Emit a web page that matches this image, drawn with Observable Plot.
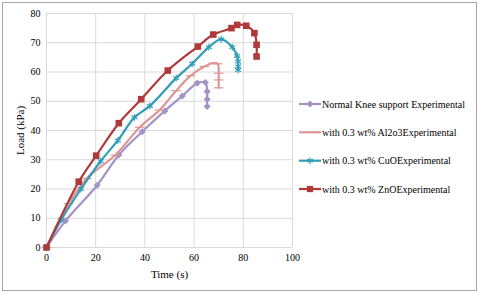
<!DOCTYPE html>
<html><head><meta charset="utf-8">
<script src="https://cdn.jsdelivr.net/npm/d3@7"></script>
<script src="https://cdn.jsdelivr.net/npm/@observablehq/plot@0.6"></script>
<style>
body{margin:0;background:#fff;}
#wrap{position:relative;width:480px;height:294px;overflow:hidden;}
#frame{position:absolute;left:2px;top:2px;width:475px;height:289px;border:1px solid #a6a6a6;box-sizing:border-box;}
#legend{position:absolute;left:0;top:0;}
</style></head>
<body><div id="wrap"><div id="chart"></div><div id="frame"></div><svg id="legend" width="480" height="294"></svg></div>
<script>
const seriesNames = ["Normal Knee support Experimental","with 0.3 wt% Al2o3Experimental","with 0.3 wt% CuOExperimental","with 0.3 wt% ZnOExperimental"];
const colors = ["#a493c6","#df9594","#2f9db5","#b03a3a"];
const normalT = [0,7.7,20.6,29.4,38.9,48.1,55.2,61.3,64.6,65.3,65.3,65.3];
const normalL = [0,9.1,21.3,31.6,39.6,46.7,51.8,56.2,56.4,53.3,50.7,48.2];
const al2o3T = [0,9,16.3,28,37.9,46,52.7,58.5,64.2,67.7,69.6,70,70,70];
const al2o3L = [0,15,23.6,31.6,41.1,47,53.6,58.7,61.9,63,62.8,59.6,57.3,54.6];
const cuoT = [0,6,14,22,29,35.8,42,52.7,59.2,66,71,75.5,77.5,77.9,77.9,77.9];
const cuoL = [0,9.5,20,29.5,36.6,44.5,48.4,57.9,62.8,68.5,71.2,68.5,65.5,63.6,61.9,60.7];
const znoT = [0,13.1,20.2,29.4,38.5,49.3,61.5,67.8,75.2,77.5,81.2,84.5,85.4,85.4];
const znoL = [0,22.5,31.4,42.5,50.7,60.5,68.7,72.8,75.0,76.1,75.8,73.3,69.3,65.3];
const xTicks = [0,20,40,60,80,100];
const yTicks = [0,10,20,30,40,50,60,70,80];

const dash = {draw(ctx, size){ const w = Math.sqrt(size)*0.9; ctx.moveTo(-w,0); ctx.lineTo(w,0); }};
const symbols = ["diamond2", dash, "asterisk", "square2"];
const symFill = [true,false,false,true];
const symR = [3.2,3,3.2,4.2];

const raw = [[normalT,normalL],[al2o3T,al2o3L],[cuoT,cuoL],[znoT,znoL]];
const series = raw.map(([t,l],i)=>t.map((x,j)=>({t:x,load:l[j],s:seriesNames[i],i})));

const font = "'Liberation Serif', 'Times New Roman', serif";
const marks = [
  Plot.gridX(xTicks,{stroke:"#d9d9d9",strokeOpacity:1}),
  Plot.gridY(yTicks,{stroke:"#d9d9d9",strokeOpacity:1}),
  Plot.ruleY([0],{stroke:"#d9d9d9"})
];
series.forEach((d,i)=>{
  marks.push(Plot.line(d,{x:"t",y:"load",stroke:colors[i],strokeWidth:2.2,curve:"catmull-rom"}));
  if(symFill[i]) marks.push(Plot.dot(d,{x:"t",y:"load",symbol:symbols[i],fill:colors[i],r:symR[i]}));
  else marks.push(Plot.dot(d,{x:"t",y:"load",symbol:symbols[i],stroke:colors[i],strokeWidth:1.2,r:symR[i]}));
});

const plot = Plot.plot({
  width:480,height:294,
  marginLeft:46,marginRight:188,marginTop:13,marginBottom:47,
  style:{fontFamily:font,fontSize:"10px",color:"#000",background:"transparent"},
  x:{domain:[0,100],ticks:xTicks,tickSize:0,tickPadding:6,label:"Time (s)",labelAnchor:"center",labelArrow:"none",labelOffset:30},
  y:{domain:[0,80],ticks:yTicks,tickSize:0,tickPadding:6,label:"Load (kPa)",labelAnchor:"center",labelArrow:"none",labelOffset:30},
  marks
});
document.getElementById("chart").appendChild(plot);
d3.select(plot).selectAll("g[aria-label='x-axis label'] text, g[aria-label='y-axis label'] text").style("font-size","11px");

// legend
const lg = d3.select("#legend");
const ly = [104,132.3,160.7,189];
seriesNames.forEach((n,i)=>{
  const g = lg.append("g").attr("transform",`translate(299,${ly[i]})`);
  g.append("line").attr("x1",0).attr("x2",22).attr("stroke",colors[i]).attr("stroke-width",2.2);
  const sym = [d3.symbolDiamond2, dash, d3.symbolAsterisk, d3.symbolSquare2][i];
  const sz = [30,25,30,50][i];
  g.append("path").attr("transform","translate(11,0)").attr("d",d3.symbol(sym,sz)())
    .attr("fill",symFill[i]?colors[i]:"none").attr("stroke",symFill[i]?"none":colors[i]).attr("stroke-width",1.2);
  g.append("text").attr("x",23).attr("dy","0.35em").attr("font-family",font).attr("font-size","10px").text(n);
});
</script></body></html>
